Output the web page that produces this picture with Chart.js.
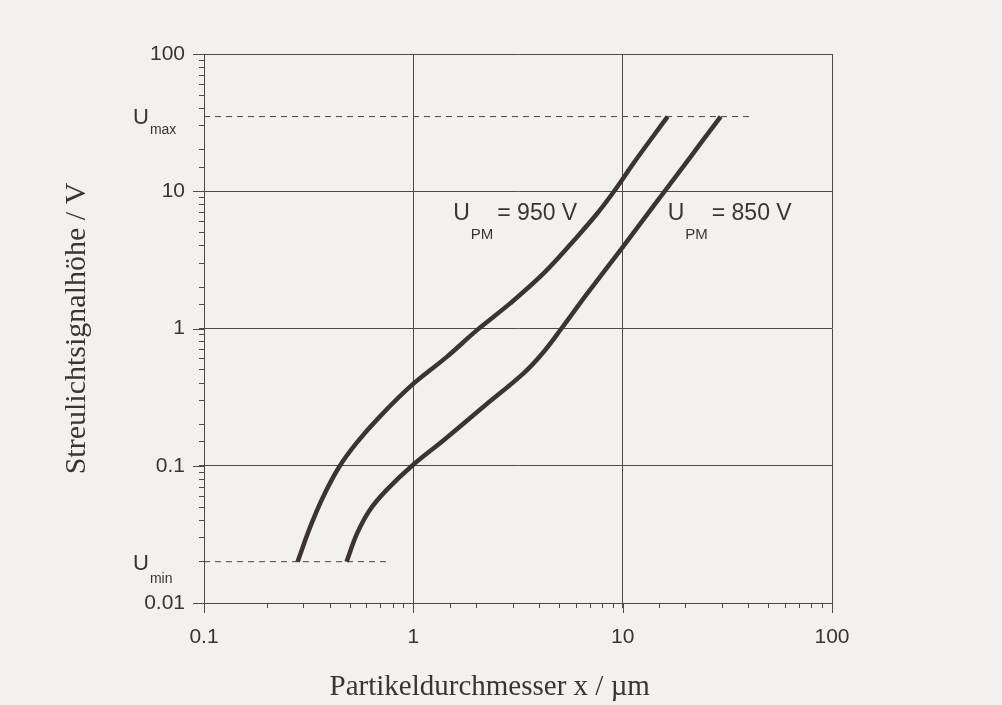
<!DOCTYPE html>
<html>
<head>
<meta charset="utf-8">
<script src="https://cdn.jsdelivr.net/npm/chart.js@4.4.0/dist/chart.umd.min.js"></script>
<style>
  html, body { margin: 0; padding: 0; background: #f2f1ef; }
  #box { width: 1002px; height: 705px; }
</style>
</head>
<body>
<div id="box"><canvas id="grafico"></canvas></div>
<script>
// Kurven
var x950 = [0.28, 0.322, 0.372, 0.442, 0.538, 0.695, 0.986, 1.45, 2.02, 2.91, 4.2, 6.07, 7.57, 9.1, 11.3, 14.1, 16.4];
var y950 = [0.02, 0.036, 0.06, 0.098, 0.148, 0.23, 0.388, 0.624, 0.977, 1.53, 2.53, 4.67, 6.91, 10.0, 16.1, 25.6, 35];
var x850 = [0.48, 0.538, 0.622, 0.748, 0.986, 1.4, 2.17, 3.37, 4.14, 5.1, 6.78, 9.78, 13.6, 18.95, 23.6, 29.4];
var y850 = [0.02, 0.032, 0.048, 0.067, 0.1, 0.154, 0.27, 0.473, 0.66, 1.0, 1.8, 3.74, 7.31, 14.3, 22.4, 35];

var uMax = 35;
var uMin = 0.02;
var xUmaxEnd = 42;
var xUminEnd = 0.76;

var xTicks = [0.1, 1, 10, 100];
var xTickLabels = ['0.1', '1', '10', '100'];
var yTicks = [0.01, 0.1, 1, 10, 100];
var yTickLabels = ['0.01', '0.1', '1', '10', '100'];

var curveLabels = [
  { main: 'U', sub: 'PM', rest: '= 950 V', x: 1.55, y: 7.06 },
  { main: 'U', sub: 'PM', rest: '= 850 V', x: 16.4, y: 7.06 }
];

var lineColor = '#3c3434';
var gridColor = '#4e4848';
var textColor = '#3a3535';

function punkte(xs, ys) {
  var out = [];
  for (var i = 0; i < xs.length; i++) out.push({ x: xs[i], y: ys[i] });
  return out;
}

function isDecade(v) {
  var l = Math.log10(v);
  return Math.abs(l - Math.round(l)) < 1e-6;
}

function labelFor(v, ticks, labels) {
  for (var i = 0; i < ticks.length; i++) {
    if (Math.abs(Math.log10(v) - Math.log10(ticks[i])) < 1e-6) return labels[i];
  }
  return '';
}

function drawSub(ctx, x, yMid, size, subSize, subDrop, main, sub, rest) {
  ctx.save();
  ctx.fillStyle = textColor;
  ctx.textAlign = 'left';
  ctx.textBaseline = 'alphabetic';
  var base = yMid + size * 0.716 / 2;
  ctx.font = size + 'px "Liberation Sans", Arial, sans-serif';
  ctx.fillText(main, x, base);
  var w = ctx.measureText(main).width;
  ctx.font = subSize + 'px "Liberation Sans", Arial, sans-serif';
  ctx.fillText(sub, x + w + 1, base + subDrop);
  var ws = ctx.measureText(sub).width;
  if (rest) {
    ctx.font = size + 'px "Liberation Sans", Arial, sans-serif';
    ctx.fillText(rest, x + w + ws + 5, base);
  }
  ctx.restore();
}

var beschriftung = {
  id: 'beschriftung',
  beforeDraw: function(chart) {
    var ctx = chart.ctx;
    ctx.save();
    ctx.fillStyle = '#f2f1ef';
    ctx.fillRect(0, 0, chart.width, chart.height);
    ctx.restore();
  },
  afterDraw: function(chart) {
    var ctx = chart.ctx;
    var xs = chart.scales.x;
    var ys = chart.scales.y;
    var area = chart.chartArea;

    // laengere Striche an den Dekaden
    ctx.save();
    ctx.strokeStyle = gridColor;
    ctx.lineWidth = 1;
    ctx.beginPath();
    xTicks.forEach(function(v) {
      var px = Math.round(xs.getPixelForValue(v)) + 0.5;
      ctx.moveTo(px, area.bottom);
      ctx.lineTo(px, area.bottom + 10);
    });
    yTicks.forEach(function(v) {
      var py = Math.round(ys.getPixelForValue(v)) + 0.5;
      ctx.moveTo(area.left, py);
      ctx.lineTo(area.left - 11, py);
    });
    ctx.stroke();
    ctx.restore();

    // U_max / U_min neben der Achse
    drawSub(ctx, area.left - 71, ys.getPixelForValue(uMax), 22, 14, 10, 'U', 'max', '');
    drawSub(ctx, area.left - 71, ys.getPixelForValue(uMin), 22, 14, 13, 'U', 'min', '');

    curveLabels.forEach(function(l) {
      drawSub(ctx, xs.getPixelForValue(l.x), ys.getPixelForValue(l.y), 23, 15, 19, l.main, l.sub, l.rest);
    });

    // Achsentitel
    ctx.save();
    ctx.fillStyle = textColor;
    ctx.font = '29px "Liberation Serif", "Times New Roman", serif';
    ctx.textAlign = 'center';
    ctx.textBaseline = 'alphabetic';
    ctx.fillText('Partikeldurchmesser x / \u00b5m', area.left + (area.right - area.left) * 0.455, 695);
    ctx.translate(85, (area.top + area.bottom) / 2);
    ctx.rotate(-Math.PI / 2);
    ctx.font = '30px "Liberation Serif", "Times New Roman", serif';
    ctx.fillText('Streulichtsignalhöhe / V', 0, 0);
    ctx.restore();
  }
};

var axisFont = { family: '"Liberation Sans", Arial, sans-serif', size: 21 };

var canvas = document.getElementById('grafico');
var ctx = canvas.getContext('2d');

var myChart = new Chart(ctx, {
  type: 'line',
  data: {
    datasets: [
      {
        label: 'U_PM = 950 V',
        data: punkte(x950, y950),
        borderColor: lineColor,
        borderWidth: 4.5,
        pointRadius: 0,
        tension: 0.35,
        fill: false
      },
      {
        label: 'U_PM = 850 V',
        data: punkte(x850, y850),
        borderColor: lineColor,
        borderWidth: 4.5,
        pointRadius: 0,
        tension: 0.35,
        fill: false
      },
      {
        label: 'U_max',
        data: [{ x: xTicks[0], y: uMax }, { x: xUmaxEnd, y: uMax }],
        borderColor: '#4a4444',
        borderWidth: 1,
        borderDash: [6, 5],
        pointRadius: 0
      },
      {
        label: 'U_min',
        data: [{ x: xTicks[0], y: uMin }, { x: xUminEnd, y: uMin }],
        borderColor: '#4a4444',
        borderWidth: 1,
        borderDash: [6, 5],
        pointRadius: 0
      }
    ]
  },
  options: {
    responsive: true,
    maintainAspectRatio: false,
    animation: false,
    layout: { padding: { left: 0, right: 170, top: 54, bottom: 0 } },
    plugins: { legend: { display: false }, tooltip: { enabled: false } },
    scales: {
      x: {
        type: 'logarithmic',
        min: xTicks[0],
        max: xTicks[xTicks.length - 1],
        afterFit: function(scale) { scale.height = 102; },
        border: { color: gridColor, width: 1 },
        grid: {
          color: function(c) { return c.tick && isDecade(c.tick.value) ? gridColor : 'rgba(0,0,0,0)'; },
          tickColor: gridColor,
          tickLength: 5,
          lineWidth: 1
        },
        ticks: {
          autoSkip: false,
          maxRotation: 0,
          padding: 17,
          color: textColor,
          font: axisFont,
          callback: function(v) { return labelFor(v, xTicks, xTickLabels); }
        }
      },
      y: {
        type: 'logarithmic',
        min: yTicks[0],
        max: yTicks[yTicks.length - 1],
        afterFit: function(scale) { scale.width = 204; },
        border: { color: gridColor, width: 1 },
        grid: {
          color: function(c) { return c.tick && isDecade(c.tick.value) ? gridColor : 'rgba(0,0,0,0)'; },
          tickColor: gridColor,
          tickLength: 5,
          lineWidth: 1
        },
        ticks: {
          autoSkip: false,
          padding: 14,
          color: textColor,
          font: axisFont,
          callback: function(v) { return labelFor(v, yTicks, yTickLabels); }
        }
      }
    }
  },
  plugins: [beschriftung]
});
</script>
</body>
</html>
